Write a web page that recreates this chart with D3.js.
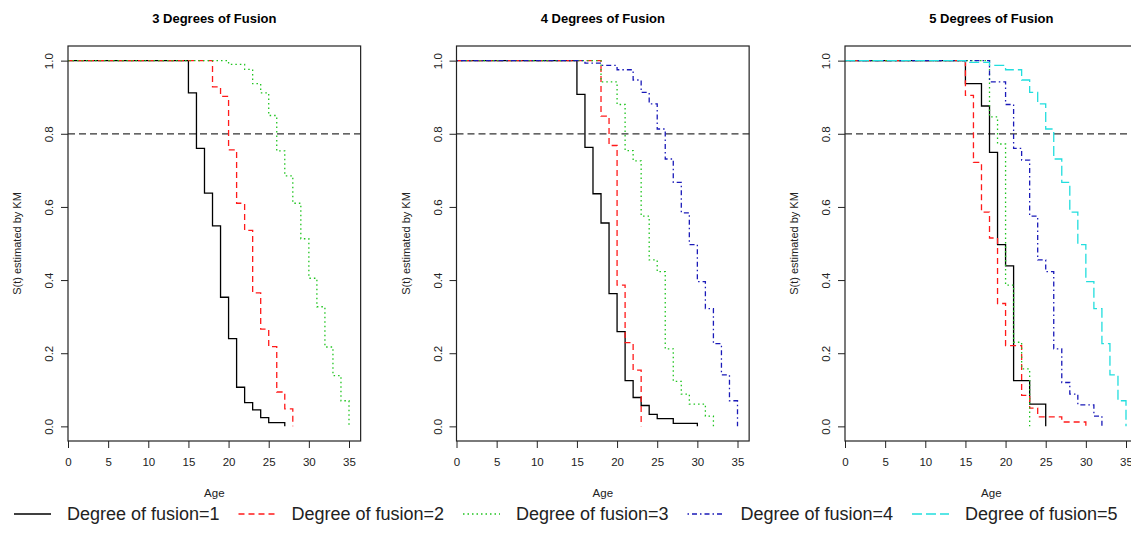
<!DOCTYPE html>
<html>
<head>
<meta charset="utf-8">
<script src="https://cdn.jsdelivr.net/npm/d3@7"></script>
<style>
  body { margin: 0; background: #fff; }
  svg { display: block; font-family: "Liberation Sans", Arial, sans-serif; }
</style>
</head>
<body>
<svg id="chart" width="1131" height="546"></svg>
<script>
const width = 1131;
const height = 546;

// panel titles
const titles = ["3 Degrees of Fusion", "4 Degrees of Fusion", "5 Degrees of Fusion"];
const legendLabels = ["Degree of fusion=1", "Degree of fusion=2", "Degree of fusion=3", "Degree of fusion=4", "Degree of fusion=5"];
const xTicks = [0, 5, 10, 15, 20, 25, 30, 35];
const yTicks = [0.0, 0.2, 0.4, 0.6, 0.8, 1.0];
const refLine = 0.8;

// KM step estimates (age, survival after the step)
// 3 degrees of fusion
const p3f1Age = [15, 16, 17, 18, 19, 20, 21, 22, 23, 24, 25, 27];
const p3f1Surv = [0.912, 0.760, 0.638, 0.548, 0.353, 0.240, 0.107, 0.065, 0.045, 0.024, 0.010, 0.0];
const p3f2Age = [18, 19, 20, 21, 22, 23, 24, 25, 26, 27, 28];
const p3f2Surv = [0.928, 0.902, 0.756, 0.610, 0.536, 0.365, 0.266, 0.218, 0.094, 0.048, 0.0];
const p3f3Age = [20, 22, 23, 24, 25, 26, 27, 28, 29, 30, 31, 32, 33, 34, 35];
const p3f3Surv = [0.990, 0.976, 0.937, 0.912, 0.850, 0.753, 0.685, 0.610, 0.513, 0.405, 0.327, 0.217, 0.139, 0.070, 0.0];

// 4 degrees of fusion
const p4f1Age = [15, 16, 17, 18, 19, 20, 21, 22, 23, 24, 25, 27, 30];
const p4f1Surv = [0.908, 0.763, 0.636, 0.556, 0.363, 0.259, 0.125, 0.079, 0.057, 0.033, 0.021, 0.008, 0.0];
const p4f2Age = [18, 19, 20, 21, 22, 23];
const p4f2Surv = [0.848, 0.768, 0.386, 0.229, 0.154, 0.0];
const p4f3Age = [18, 20, 21, 22, 23, 24, 25, 26, 27, 28, 29, 31, 32];
const p4f3Surv = [0.942, 0.880, 0.754, 0.726, 0.575, 0.455, 0.423, 0.212, 0.123, 0.088, 0.061, 0.028, 0.0];
const p4f4Age = [16, 18, 20, 22, 23, 24, 25, 26, 27, 28, 29, 30, 31, 32, 33, 34, 35];
const p4f4Surv = [0.993, 0.987, 0.975, 0.947, 0.913, 0.882, 0.813, 0.731, 0.667, 0.584, 0.497, 0.396, 0.322, 0.226, 0.141, 0.070, 0.0];

// 5 degrees of fusion
const p5f1Age = [15, 17, 18, 19, 20, 21, 23, 25];
const p5f1Surv = [0.937, 0.876, 0.749, 0.497, 0.439, 0.125, 0.061, 0.0];
const p5f2Age = [15, 16, 17, 18, 19, 20, 22, 23, 24, 27, 30];
const p5f2Surv = [0.905, 0.722, 0.586, 0.515, 0.336, 0.221, 0.085, 0.050, 0.026, 0.012, 0.0];
const p5f3Age = [18, 19, 20, 21, 22, 23];
const p5f3Surv = [0.846, 0.772, 0.386, 0.230, 0.157, 0.0];
const p5f4Age = [18, 20, 21, 22, 23, 24, 25, 26, 27, 28, 29, 31, 32];
const p5f4Surv = [0.942, 0.880, 0.760, 0.728, 0.575, 0.455, 0.423, 0.212, 0.120, 0.088, 0.059, 0.028, 0.0];
const p5f5Age = [15, 18, 20, 22, 23, 24, 25, 26, 27, 28, 29, 30, 31, 32, 33, 34, 35];
const p5f5Surv = [0.995, 0.987, 0.975, 0.947, 0.913, 0.882, 0.813, 0.731, 0.667, 0.586, 0.497, 0.396, 0.322, 0.226, 0.141, 0.070, 0.0];

// line look per degree of fusion (R lty 1..5, col 1..5)
const colors = ["#000000", "#ff1a1a", "#1fc41f", "#1a1ab8", "#22dede"];
const dashes = [null, "6,4", "1.5,3", "1.5,3,5,3", "10,4"];

const panels = [
  { title: titles[0], curves: [[p3f1Age, p3f1Surv], [p3f2Age, p3f2Surv], [p3f3Age, p3f3Surv]] },
  { title: titles[1], curves: [[p4f1Age, p4f1Surv], [p4f2Age, p4f2Surv], [p4f3Age, p4f3Surv], [p4f4Age, p4f4Surv]] },
  { title: titles[2], curves: [[p5f1Age, p5f1Surv], [p5f2Age, p5f2Surv], [p5f3Age, p5f3Surv], [p5f4Age, p5f4Surv], [p5f5Age, p5f5Surv]] }
];

const svg = d3.select("#chart");

const panelLeft = 68;
const panelStep = 388.5;
const boxTop = 46, boxBottom = 441;

const y = d3.scaleLinear().domain([-0.04, 1.04]).range([boxBottom, boxTop]);

panels.forEach((p, pi) => {
  const ox = panelLeft + pi * panelStep;
  const x = d3.scaleLinear().domain([0, 35]).range([ox, ox + 281]);
  const boxRight = x(36.45);

  const g = svg.append("g");

  // title
  g.append("text")
    .attr("x", (ox + boxRight) / 2)
    .attr("y", 23)
    .attr("text-anchor", "middle")
    .attr("font-size", "13px")
    .attr("font-weight", "bold")
    .text(p.title);

  // reference line at 0.8
  g.append("line")
    .attr("x1", ox).attr("x2", boxRight)
    .attr("y1", y(refLine)).attr("y2", y(refLine))
    .attr("stroke", "#333")
    .attr("stroke-width", 1.2)
    .attr("stroke-dasharray", "7,4");

  // KM curves
  const line = d3.line()
    .x(d => x(d[0]))
    .y(d => y(d[1]))
    .curve(d3.curveStepAfter);

  p.curves.forEach((c, ci) => {
    const pts = [[0, 1]].concat(c[0].map((a, i) => [a, c[1][i]]));
    g.append("path")
      .datum(pts)
      .attr("d", line)
      .attr("fill", "none")
      .attr("stroke", colors[ci])
      .attr("stroke-width", 1.3)
      .attr("stroke-dasharray", dashes[ci]);
  });

  // box
  g.append("rect")
    .attr("x", ox).attr("y", boxTop)
    .attr("width", boxRight - ox).attr("height", boxBottom - boxTop)
    .attr("fill", "none")
    .attr("stroke", "#222")
    .attr("stroke-width", 1.2);

  // x axis
  const xAxis = d3.axisBottom(x).tickValues(xTicks).tickSize(7).tickPadding(10).tickFormat(d3.format("d"));
  const xg = g.append("g")
    .attr("transform", "translate(0," + boxBottom + ")")
    .call(xAxis);
  xg.select(".domain").remove();
  xg.selectAll("line").attr("stroke", "#222");
  xg.selectAll("text").attr("font-size", "11.5px").attr("fill", "#222")
    .attr("font-family", "Liberation Sans, Arial, sans-serif");

  // y axis with R-style rotated labels
  const yAxis = d3.axisLeft(y).tickValues(yTicks).tickSize(7).tickFormat(d3.format(".1f"));
  const yg = g.append("g")
    .attr("transform", "translate(" + ox + ",0)")
    .call(yAxis);
  yg.select(".domain").remove();
  yg.selectAll("line").attr("stroke", "#222");
  yg.selectAll("text")
    .attr("x", null).attr("dy", null)
    .attr("text-anchor", "middle")
    .attr("dominant-baseline", "central")
    .attr("transform", "translate(-19,0) rotate(-90)")
    .attr("font-size", "11.5px").attr("fill", "#222")
    .attr("font-family", "Liberation Sans, Arial, sans-serif");

  // axis labels
  g.append("text")
    .attr("x", (ox + boxRight) / 2)
    .attr("y", 497)
    .attr("text-anchor", "middle")
    .attr("font-size", "11.5px")
    .attr("fill", "#222")
    .text("Age");

  g.append("text")
    .attr("transform", "translate(" + (ox - 51) + "," + ((boxTop + boxBottom) / 2) + ") rotate(-90)")
    .attr("text-anchor", "middle")
    .attr("dominant-baseline", "central")
    .attr("font-size", "11px")
    .attr("fill", "#222")
    .text("S(t) estimated by KM");
});

// legend
const legendX = d3.scaleLinear().domain([0, 4]).range([67, 965]);
const legend = svg.append("g").attr("transform", "translate(0,514)");
legendLabels.forEach((lab, i) => {
  const tx = legendX(i);
  legend.append("line")
    .attr("x1", tx - 53).attr("x2", tx - 16)
    .attr("y1", 0).attr("y2", 0)
    .attr("stroke", colors[i])
    .attr("stroke-width", 1.3)
    .attr("stroke-dasharray", dashes[i]);
  legend.append("text")
    .attr("x", tx)
    .attr("y", 0)
    .attr("dominant-baseline", "central")
    .attr("font-size", "18px")
    .attr("fill", "#222")
    .text(lab);
});
</script>
</body>
</html>
